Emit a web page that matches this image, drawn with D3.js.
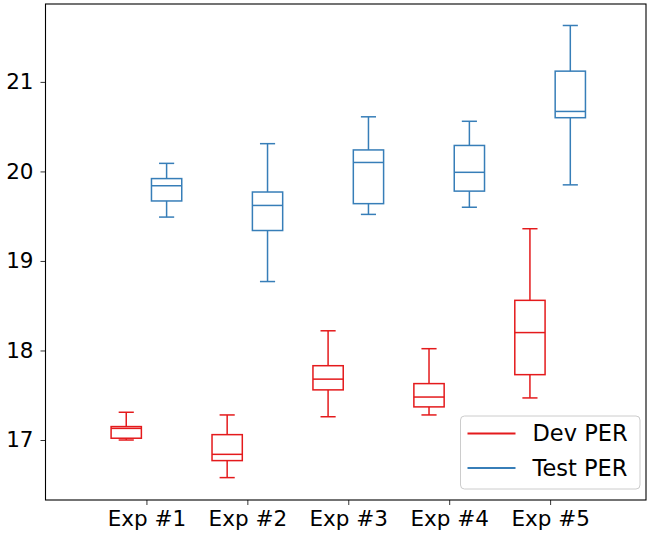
<!DOCTYPE html>
<html>
<head>
<meta charset="utf-8">
<script src="https://cdn.jsdelivr.net/npm/d3@7"></script>
<style>
  body { margin: 0; background: #fff; }
  svg { display: block; font-family: "DejaVu Sans", sans-serif; }
</style>
</head>
<body>
<div id="chart_parent"></div>
<script>
// values: [lower whisker, q1, median, q3, upper whisker]
const experiments = ['Exp #1', 'Exp #2', 'Exp #3', 'Exp #4', 'Exp #5'];
const devPer = [
    [17.00, 17.02, 17.13, 17.15, 17.31],
    [16.58, 16.77, 16.84, 17.06, 17.28],
    [17.26, 17.56, 17.68, 17.83, 18.22],
    [17.28, 17.37, 17.48, 17.63, 18.02],
    [17.47, 17.73, 18.20, 18.56, 19.36],
];
const testPer = [
    [19.49, 19.67, 19.84, 19.92, 20.09],
    [18.77, 19.34, 19.62, 19.77, 20.31],
    [19.52, 19.64, 20.10, 20.24, 20.61],
    [19.60, 19.78, 19.99, 20.29, 20.56],
    [19.85, 20.60, 20.67, 21.12, 21.63],
];
const yTicks = [17, 18, 19, 20, 21];

const seriesList = [
    {name: 'Dev PER', values: devPer, colour: '#e41a1c', offset: -0.2},
    {name: 'Test PER', values: testPer, colour: '#377eb8', offset: 0.2},
];

const chartConfig = {
    width: 647,
    height: 537,
    plot: {left: 45.5, right: 646, top: 4, bottom: 500},
    xDomain: [0, 5.95],
    yDomain: [16.33, 21.87],
    boxWidth: 0.3,
    capWidth: 0.15,
    fontSize: 21.5,
    legendFontSize: 22.5,
};

function drawChart(rootSelector, config) {
    const {plot} = config;
    const svg = d3.select(rootSelector).append('svg')
        .attr('width', config.width)
        .attr('height', config.height);

    const xScale = d3.scaleLinear().domain(config.xDomain).range([plot.left, plot.right]);
    const yScale = d3.scaleLinear().domain(config.yDomain).range([plot.bottom, plot.top]);

    // boxes
    seriesList.forEach(series => {
        const g = svg.append('g')
            .attr('fill', 'none')
            .attr('stroke', series.colour)
            .attr('stroke-width', 1.5);
        series.values.forEach((s, i) => {
            const pos = i + 1 + series.offset;
            const [lo, q1, med, q3, hi] = s;
            const xl = xScale(pos - config.boxWidth / 2);
            const xr = xScale(pos + config.boxWidth / 2);
            const xc = xScale(pos);
            const cl = xScale(pos - config.capWidth / 2);
            const cr = xScale(pos + config.capWidth / 2);
            g.append('rect')
                .attr('x', xl).attr('y', yScale(q3))
                .attr('width', xr - xl).attr('height', yScale(q1) - yScale(q3));
            g.append('line').attr('x1', xl).attr('x2', xr)
                .attr('y1', yScale(med)).attr('y2', yScale(med));
            g.append('line').attr('x1', xc).attr('x2', xc)
                .attr('y1', yScale(q3)).attr('y2', yScale(hi));
            g.append('line').attr('x1', xc).attr('x2', xc)
                .attr('y1', yScale(q1)).attr('y2', yScale(lo));
            g.append('line').attr('x1', cl).attr('x2', cr)
                .attr('y1', yScale(hi)).attr('y2', yScale(hi));
            g.append('line').attr('x1', cl).attr('x2', cr)
                .attr('y1', yScale(lo)).attr('y2', yScale(lo));
        });
    });

    // axes
    const yAxis = d3.axisLeft(yScale)
        .tickValues(yTicks)
        .tickFormat(d3.format('d'))
        .tickSize(5).tickPadding(7);
    const xAxis = d3.axisBottom(xScale)
        .tickValues(d3.range(1, experiments.length + 1))
        .tickFormat(d => experiments[d - 1])
        .tickSize(5).tickPadding(6);

    const yAxisGroup = svg.append('g')
        .attr('transform', `translate(${plot.left},0)`)
        .call(yAxis);
    const xAxisGroup = svg.append('g')
        .attr('transform', `translate(0,${plot.bottom})`)
        .call(xAxis);

    [xAxisGroup, yAxisGroup].forEach(ag => {
        ag.select('.domain').remove();
        ag.selectAll('.tick line').attr('stroke', '#000').attr('stroke-width', 0.8);
        ag.selectAll('.tick text')
            .attr('fill', '#000')
            .style('font-size', config.fontSize + 'px')
            .style('font-family', '"DejaVu Sans", sans-serif');
    });

    // spines
    svg.append('rect')
        .attr('x', plot.left).attr('y', plot.top)
        .attr('width', plot.right - plot.left)
        .attr('height', plot.bottom - plot.top)
        .attr('fill', 'none')
        .attr('stroke', '#000')
        .attr('stroke-width', 1.1);

    // legend
    const legend = svg.append('g').attr('transform', 'translate(460.5,416)');
    legend.append('rect')
        .attr('width', 179.5).attr('height', 73)
        .attr('rx', 4)
        .attr('fill', '#fff').attr('fill-opacity', 0.8)
        .attr('stroke', '#cccccc').attr('stroke-width', 1);
    seriesList.forEach((series, i) => {
        const y = 17.5 + i * 34.5;
        legend.append('line')
            .attr('x1', 7).attr('x2', 55)
            .attr('y1', y).attr('y2', y)
            .attr('stroke', series.colour).attr('stroke-width', 2);
        legend.append('text')
            .attr('x', 72).attr('y', y)
            .attr('dy', '0.35em')
            .style('font-size', config.legendFontSize + 'px')
            .text(series.name);
    });
}

drawChart('#chart_parent', chartConfig);
</script>
</body>
</html>
